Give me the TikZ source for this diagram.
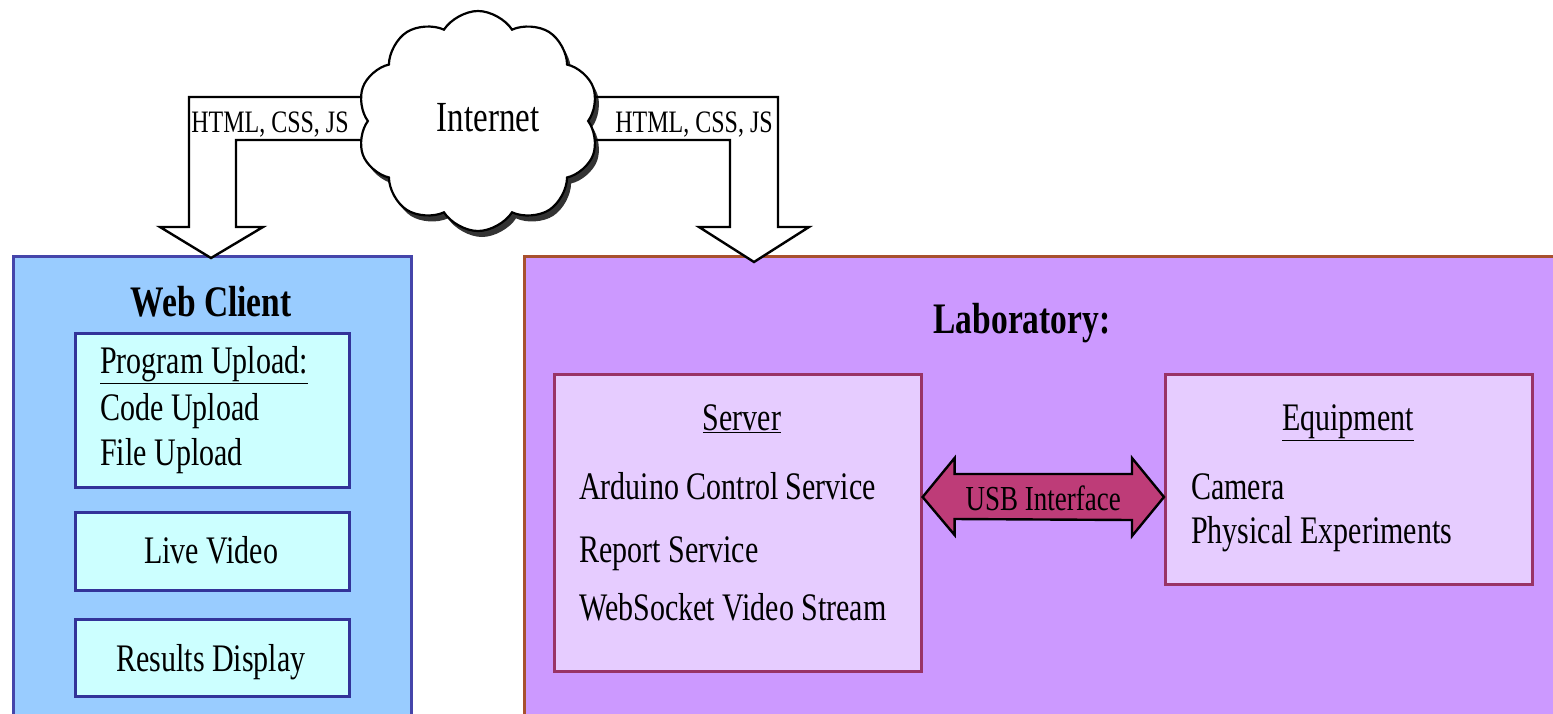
\documentclass[tikz,border=0pt]{standalone}
\usepackage{fontspec}
\setmainfont{Liberation Serif}
\usepackage{graphicx}
\usetikzlibrary{shapes.symbols,shadows,calc}
\definecolor{webfill}{HTML}{99CCFF}
\definecolor{webdraw}{HTML}{4545AA}
\definecolor{infill}{HTML}{CCFFFF}
\definecolor{indraw}{HTML}{333399}
\definecolor{labfill}{HTML}{CC99FF}
\definecolor{labdraw}{HTML}{A8512E}
\definecolor{srvfill}{HTML}{E6CCFF}
\definecolor{srvdraw}{HTML}{993366}
\definecolor{usbfill}{HTML}{BE3C78}
\newcommand{\vs}[1]{\scalebox{1}[1.3]{#1}}
\begin{document}
\begin{tikzpicture}[x=1pt,y=-1pt,
  box/.style={rectangle, anchor=north west, inner sep=0pt, line width=2.6pt},
  webbox/.style={box, draw=webdraw, fill=webfill},
  inbox/.style={box, draw=indraw, fill=infill},
  labbox/.style={box, draw=labdraw, fill=labfill},
  srvbox/.style={box, draw=srvdraw, fill=srvfill},
  txt/.style={inner sep=0pt, font=\fontsize{30}{36}\selectfont},
  ttl/.style={inner sep=0pt, font=\bfseries\fontsize{33.5}{40}\selectfont},
  small/.style={inner sep=0pt, font=\fontsize{24}{28}\selectfont},
  bent/.style={draw=black, fill=white, line width=2.4pt, line join=miter},
  usbarrow/.style={draw=black, fill=usbfill, line width=2.4pt, line join=miter}
]
\useasboundingbox (0,0) rectangle (1553,713);
\clip (0,0) rectangle (1553,713);
\fill[white] (0,0) rectangle (1553,713);

% Web client
\node[webbox, minimum width=398, minimum height=480] (web) at (12,255) {};
\node[inbox, minimum width=274, minimum height=154] (prog) at (74,332) {};
\node[inbox, minimum width=274, minimum height=78] (live) at (74,511) {};
\node[inbox, minimum width=274, minimum height=77] (res) at (74,618) {};
\node[ttl, anchor=base] (webt) at (211,316) {\vs{Web Client}};
\node[txt, anchor=base west] (progt) at (100,373) {\vs{\underline{Program Upload:}}};
\node[txt, anchor=base west] (code) at (100,420) {\vs{Code Upload}};
\node[txt, anchor=base west] (file) at (100,465) {\vs{File Upload}};
\node[txt, anchor=base] (livet) at (211,563) {\vs{Live Video}};
\node[txt, anchor=base] (rest) at (211,671) {\vs{Results Display}};

% Laboratory
\node[labbox, minimum width=1060, minimum height=480] (lab) at (523,255) {};
\node[ttl, anchor=base] (labt) at (1022,333) {\vs{Laboratory:}};
\node[srvbox, minimum width=367, minimum height=297] (srv) at (553,373) {};
\node[srvbox, minimum width=367, minimum height=210] (eqp) at (1164,373) {};
\node[txt, anchor=base] (srvt) at (742,430) {\vs{\underline{Server}}};
\node[txt, anchor=base west] (ard) at (579,499) {\vs{Arduino Control Service}};
\node[txt, anchor=base west] (rep) at (579,562) {\vs{Report Service}};
\node[txt, anchor=base west] (wss) at (579,620) {\vs{WebSocket Video Stream}};
\node[txt, anchor=base] (eqpt) at (1348,430) {\vs{\underline{Equipment}}};
\node[txt, anchor=base west] (cam) at (1191,499) {\vs{Camera}};
\node[txt, anchor=base west] (phys) at (1191,543) {\vs{Physical Experiments}};

% USB double arrow
\coordinate (uL) at (srv.east |- 0,497);
\coordinate (uR) at (eqp.west |- 0,497);
\draw[usbarrow] (uL) -- ++(32,-39) -- ++(0,16) -- ($(uR)+(-32,-23)$) -- ++(0,-16) -- (uR)
  -- ++(-32,39) -- ++(0,-16) -- ($(uL)+(32,22)$) -- ++(0,16) -- cycle;
\node[inner sep=0pt, font=\fontsize{27}{32}\selectfont, anchor=base] (usbt) at ($(uL)!0.5!(uR)+(0,13)$) {\vs{USB Interface}};

% Bent arrows from the cloud
\coordinate (cL1) at (390,97);
\coordinate (cL2) at (390,140);
\coordinate (cR1) at (570,97);
\coordinate (cR2) at (570,140);
\coordinate (tipL) at (211,258);
\coordinate (tipR) at (754,262);
\draw[bent] (cL1) -- (189,97) -- (189,227) -- (160,227) -- (tipL) -- (263,227)
  -- (236,227) -- (236,140) -- (cL2);
\draw[bent] (cR1) -- (778,97) -- (778,227) -- (809,227) -- (tipR) -- (699,227) -- (730,227) -- (730,140) -- (cR2);
\node[small, anchor=base] (htl) at (270,132) {\vs{HTML, CSS, JS}};
\node[small, anchor=base] (htr) at (694,132) {\vs{HTML, CSS, JS}};

% Cloud
\node[cloud, draw=black, fill=white, line width=2.2pt, cloud puffs=10, cloud puff arc=115,
  aspect=1.05, minimum width=242, minimum height=220, inner sep=0pt,
  drop shadow={shadow xshift=4pt, shadow yshift=-6pt, fill=black, opacity=0.8}] (cloud) at (478,121) {};
\node[inner sep=0pt, font=\fontsize{33}{40}\selectfont, anchor=base] (inet) at (488,131) {\vs{Internet}};
\end{tikzpicture}
\end{document}
